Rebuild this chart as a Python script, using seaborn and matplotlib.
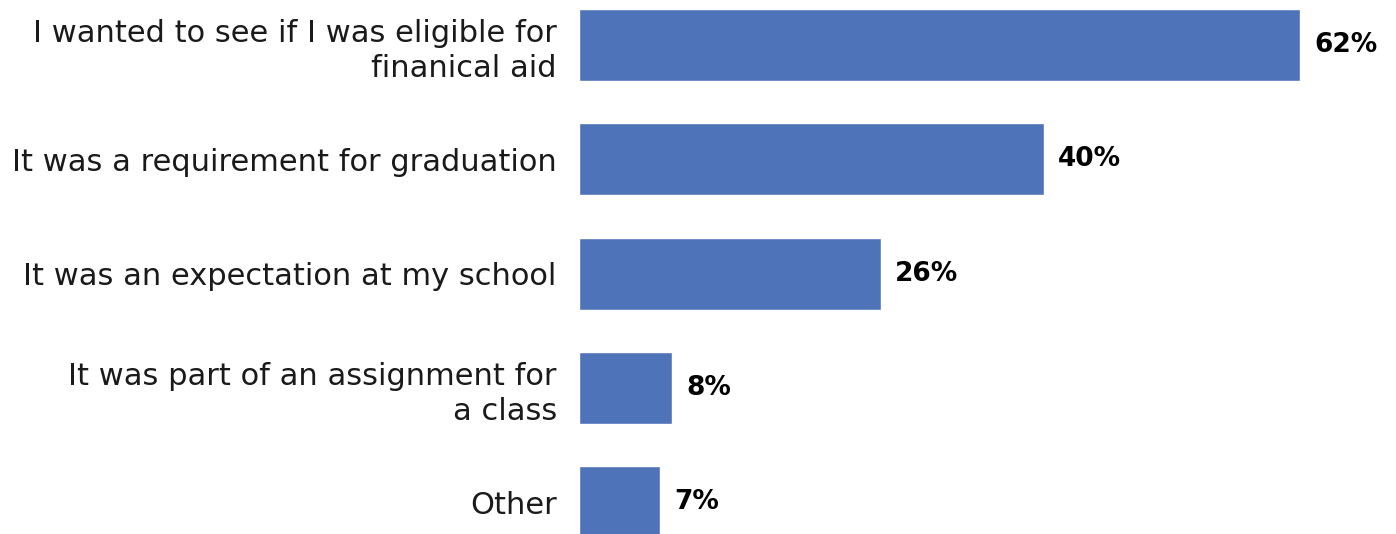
import matplotlib
matplotlib.use("Agg")
import matplotlib.pyplot as plt
import seaborn as sns
import pandas as pd

reasons = [
    "I wanted to see if I was eligible for\nfinanical aid",
    "It was a requirement for graduation",
    "It was an expectation at my school",
    "It was part of an assignment for\na class",
    "Other",
]
shares = [62, 40, 26, 8, 7]
value_labels = ["62%", "40%", "26%", "8%", "7%"]

df = pd.DataFrame({"reason": reasons, "share": shares})

sns.set_theme(style="white")
plt.rcParams["font.family"] = ["DejaVu Sans"]

fig = plt.figure(figsize=(13.96, 5.34), dpi=100)
ax = fig.add_axes([579 / 1396, 0, 1 - 579 / 1396, 1])

sns.barplot(data=df, x="share", y="reason", orient="h", color="#4F73B9",
            saturation=1, width=0.63, ax=ax)

ax.set_xlim(0, 70.25)
ax.set_ylim(4.28, -0.394)
ax.set_xlabel("")
ax.set_ylabel("")
ax.set_xticks([])
for s in ax.spines.values():
    s.set_visible(False)

ax.tick_params(axis="y", length=0, pad=16)
for lbl in ax.get_yticklabels():
    lbl.set_fontsize(22)
    lbl.set_color("#1a1a1a")
    lbl.set_horizontalalignment("right")
    lbl.set_multialignment("right")
    lbl.set_linespacing(1.25)

for i, (v, t) in enumerate(zip(shares, value_labels)):
    ax.annotate(t, xy=(v, i), xytext=(10, 0), textcoords="offset points",
                ha="left", va="center", fontsize=19, fontweight="bold",
                color="black")

fig.savefig("out.png", dpi=100)
